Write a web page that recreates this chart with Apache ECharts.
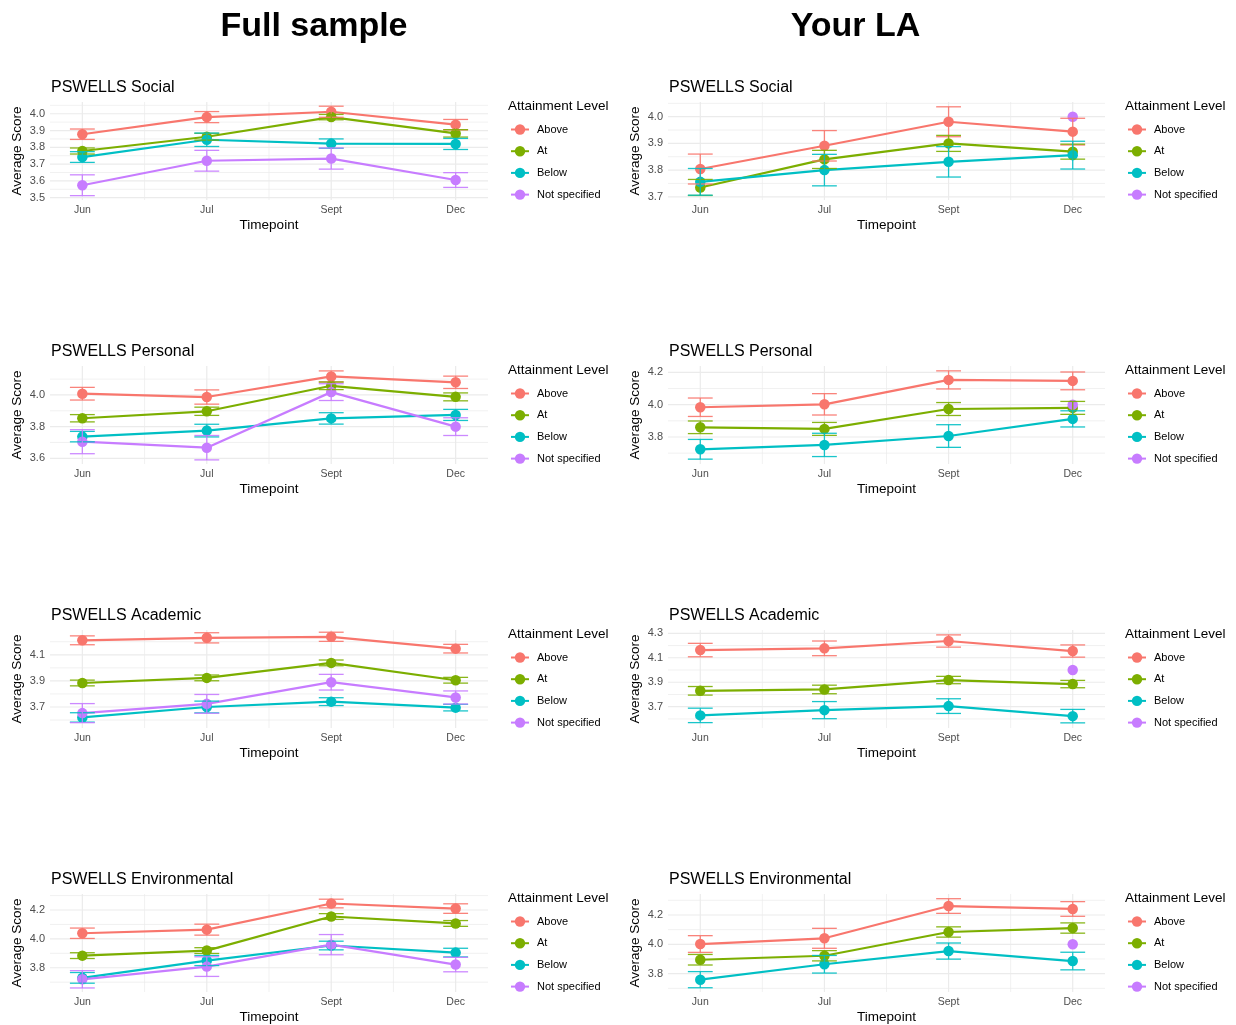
<!DOCTYPE html>
<html><head><meta charset="utf-8">
<script src="https://cdn.jsdelivr.net/npm/echarts@6/dist/echarts.min.js"></script>
<style>html,body{margin:0;padding:0;background:#fff}#c{width:1236px;height:1025px}</style>
</head><body><div id="c"></div>
<script>
// ---------- data ----------
const timepoints = ['Jun', 'Jul', 'Sept', 'Dec'];
const levels = ['Above', 'At', 'Below', 'Not specified'];
const levelColors = ['#F8766D', '#7CAE00', '#00BFC4', '#C77CFF'];
const panelTitles = ['PSWELLS Social', 'PSWELLS Personal', 'PSWELLS Academic', 'PSWELLS Environmental'];
const sampleTitles = ['Full sample', 'Your LA'];

// means per level (Above, At, Below, Not specified), per timepoint
const fullSocialMeans = [[3.878, 3.98, 4.012, 3.935], [3.778, 3.863, 3.98, 3.883], [3.742, 3.845, 3.822, 3.82], [3.574, 3.72, 3.733, 3.605]];
const fullSocialErr = [[0.031, 0.033, 0.033, 0.031], [0.018, 0.02, 0.016, 0.022], [0.032, 0.04, 0.028, 0.033], [0.062, 0.062, 0.063, 0.044]];
const laSocialMeans = [[3.804, 3.891, 3.981, 3.944], [3.735, 3.84, 3.9, 3.869], [3.756, 3.80, 3.831, 3.856], [null, null, null, 4.0]];
const laSocialErr = [[0.056, 0.057, 0.056, 0.05], [0.03, 0.034, 0.03, 0.028], [0.05, 0.059, 0.057, 0.052], [null, null, null, null]];

const fullPersonalMeans = [[4.008, 3.987, 4.117, 4.08], [3.853, 3.897, 4.058, 3.988], [3.737, 3.775, 3.852, 3.874], [3.705, 3.667, 4.018, 3.8]];
const fullPersonalErr = [[0.04, 0.045, 0.035, 0.039], [0.023, 0.026, 0.024, 0.025], [0.033, 0.04, 0.036, 0.035], [0.076, 0.077, 0.053, 0.056]];
const laPersonalMeans = [[3.984, 4.002, 4.153, 4.147], [3.86, 3.85, 3.973, 3.98], [3.724, 3.751, 3.806, 3.912], [null, null, null, 4.0]];
const laPersonalErr = [[0.057, 0.066, 0.056, 0.055], [0.039, 0.04, 0.04, 0.04], [0.061, 0.072, 0.07, 0.05], [null, null, null, null]];

const fullAcademicMeans = [[4.211, 4.23, 4.238, 4.147], [3.884, 3.923, 4.038, 3.905], [3.62, 3.7, 3.741, 3.695], [3.653, 3.724, 3.89, 3.773]];
const fullAcademicErr = [[0.034, 0.039, 0.035, 0.033], [0.022, 0.022, 0.022, 0.022], [0.036, 0.045, 0.03, 0.025], [0.073, 0.072, 0.06, 0.05]];
const laAcademicMeans = [[4.163, 4.177, 4.237, 4.155], [3.83, 3.841, 3.918, 3.885], [3.629, 3.672, 3.705, 3.623], [null, null, null, 4.0]];
const laAcademicErr = [[0.055, 0.06, 0.05, 0.05], [0.035, 0.035, 0.03, 0.03], [0.059, 0.07, 0.06, 0.055], [null, null, null, null]];

const fullEnvMeans = [[4.039, 4.064, 4.245, 4.21], [3.884, 3.919, 4.155, 4.107], [3.73, 3.85, 3.954, 3.905], [3.72, 3.808, 3.96, 3.822]];
const fullEnvErr = [[0.036, 0.038, 0.03, 0.033], [0.02, 0.02, 0.02, 0.02], [0.037, 0.035, 0.03, 0.03], [0.06, 0.068, 0.07, 0.05]];
const laEnvMeans = [[4.002, 4.041, 4.261, 4.241], [3.895, 3.922, 4.084, 4.111], [3.759, 3.864, 3.954, 3.886], [null, null, null, 4.0]];
const laEnvErr = [[0.057, 0.068, 0.05, 0.05], [0.036, 0.035, 0.035, 0.035], [0.055, 0.06, 0.055, 0.06], [null, null, null, null]];

// y tick labels per panel
const fullSocialTicks = [3.5, 3.6, 3.7, 3.8, 3.9, 4.0];
const laSocialTicks = [3.7, 3.8, 3.9, 4.0];
const fullPersonalTicks = [3.6, 3.8, 4.0];
const laPersonalTicks = [3.8, 4.0, 4.2];
const fullAcademicTicks = [3.7, 3.9, 4.1];
const laAcademicTicks = [3.7, 3.9, 4.1, 4.3];
const fullEnvTicks = [3.8, 4.0, 4.2];
const laEnvTicks = [3.8, 4.0, 4.2];
const fullSocialMinor = [3.55, 3.65, 3.75, 3.85, 3.95, 4.05];
const laSocialMinor = [3.75, 3.85, 3.95, 4.05];
const fullPersonalMinor = [3.7, 3.9, 4.1];
const laPersonalMinor = [3.7, 3.9, 4.1];
const fullAcademicMinor = [3.6, 3.8, 4.0, 4.2];
const laAcademicMinor = [3.6, 3.8, 4.0, 4.2];
const fullEnvMinor = [3.7, 3.9, 4.1, 4.3];
const laEnvMinor = [3.7, 3.9, 4.1, 4.3];
// y axis ranges
const fullSocialRange = [3.486, 4.070];
const laSocialRange = [3.688, 4.055];
const fullPersonalRange = [3.564, 4.183];
const laPersonalRange = [3.633, 4.239];
const fullAcademicRange = [3.539, 4.29];
const laAcademicRange = [3.526, 4.327];
const fullEnvRange = [3.632, 4.311];
const laEnvRange = [3.675, 4.343];

// ---------- build ----------
const panels = [
  [fullSocialMeans, fullSocialErr, fullSocialTicks, fullSocialMinor, fullSocialRange],
  [laSocialMeans, laSocialErr, laSocialTicks, laSocialMinor, laSocialRange],
  [fullPersonalMeans, fullPersonalErr, fullPersonalTicks, fullPersonalMinor, fullPersonalRange],
  [laPersonalMeans, laPersonalErr, laPersonalTicks, laPersonalMinor, laPersonalRange],
  [fullAcademicMeans, fullAcademicErr, fullAcademicTicks, fullAcademicMinor, fullAcademicRange],
  [laAcademicMeans, laAcademicErr, laAcademicTicks, laAcademicMinor, laAcademicRange],
  [fullEnvMeans, fullEnvErr, fullEnvTicks, fullEnvMinor, fullEnvRange],
  [laEnvMeans, laEnvErr, laEnvTicks, laEnvMinor, laEnvRange]
];

const FONT = '"Liberation Sans", Arial, Helvetica, sans-serif';
const colLeft = [50, 668], colWidth = [438, 437];
const rowStep = 264, firstTop = 102, plotH = 98;
const xMin = -0.26, xMax = 3.26;

const grid = [], xAxis = [], yAxis = [], series = [], legend = [], graphic = [];

sampleTitles.forEach((t, c) => {
  graphic.push({type: 'text', x: c === 0 ? 314 : 855.5, y: 27,
    style: {text: t, font: 'bold 34px ' + FONT, fill: '#000', align: 'center', verticalAlign: 'middle'}});
});

panels.forEach((p, i) => {
  const r = Math.floor(i / 2), c = i % 2;
  const [means, errs, ticks, minor, range] = p;
  const top = firstTop + rowStep * r;
  grid.push({left: colLeft[c], top: top, width: colWidth[c], height: plotH});
  xAxis.push({
    gridIndex: i, type: 'value', min: xMin, max: xMax,
    axisLine: {show: false}, axisTick: {show: false}, splitLine: {show: false},
    axisLabel: {customValues: [0, 1, 2, 3], formatter: v => timepoints[Math.round(v)],
      fontSize: 10.5, color: '#4D4D4D', margin: 5, fontFamily: FONT},
    name: 'Timepoint', nameLocation: 'middle', nameGap: 18,
    nameTextStyle: {fontSize: 13.5, color: '#000', fontFamily: FONT}
  });
  yAxis.push({
    gridIndex: i, type: 'value', min: range[0], max: range[1],
    axisLine: {show: false}, axisTick: {show: false}, splitLine: {show: false},
    axisLabel: {customValues: ticks, formatter: v => v.toFixed(1),
      fontSize: 11, color: '#4D4D4D', margin: 5, fontFamily: FONT},
    name: 'Average Score', nameLocation: 'middle', nameGap: 26,
    nameTextStyle: {fontSize: 13.5, color: '#000', fontFamily: FONT}
  });
  // grid lines
  const gl = [];
  [0, 1, 2, 3].forEach(v => gl.push([v, 0, 1]));
  [0.5, 1.5, 2.5].forEach(v => gl.push([v, 0, 0]));
  ticks.forEach(v => gl.push([v, 1, 1]));
  minor.forEach(v => gl.push([v, 1, 0]));
  series.push({
    type: 'custom', xAxisIndex: i, yAxisIndex: i, silent: true, z: 0, clip: false,
    data: gl, encode: {x: 0},
    renderItem: (params, api) => {
      const v = api.value(0), dir = api.value(1), maj = api.value(2);
      const cs = params.coordSys;
      let shape;
      if (dir === 0) {
        const px = api.coord([v, range[0]])[0];
        shape = {x1: px, y1: cs.y, x2: px, y2: cs.y + cs.height};
      } else {
        const py = api.coord([0, v])[1];
        shape = {x1: cs.x, y1: py, x2: cs.x + cs.width, y2: py};
      }
      return {type: 'line', shape: shape, style: {stroke: '#EBEBEB', lineWidth: maj ? 1.2 : 0.7}};
    }
  });
  levels.forEach((lv, k) => {
    const pts = [], eb = [];
    means[k].forEach((m, t) => {
      if (m === null) return;
      pts.push([t, m]);
      if (errs[k][t] !== null) eb.push([t, m - errs[k][t], m + errs[k][t]]);
    });
    series.push({
      name: lv, type: 'line', xAxisIndex: i, yAxisIndex: i, data: pts,
      symbol: 'circle', symbolSize: 10.5, showSymbol: true,
      color: levelColors[k],
      lineStyle: {width: 2.2, color: levelColors[k]},
      itemStyle: {color: levelColors[k]},
      emphasis: {disabled: true}, z: 2
    });
    if (eb.length) series.push({
      name: lv, type: 'custom', xAxisIndex: i, yAxisIndex: i, data: eb, z: 3, silent: true,
      encode: {x: 0, y: [1, 2]},
      renderItem: (params, api) => {
        const x = api.value(0), lo = api.value(1), hi = api.value(2);
        const pH = api.coord([x, hi]), pL = api.coord([x, lo]);
        const hw = api.coord([x + 0.1, hi])[0] - pH[0];
        const st = {stroke: levelColors[k], lineWidth: 1.3, opacity: 0.9};
        return {type: 'group', children: [
          {type: 'line', shape: {x1: pH[0], y1: pH[1], x2: pL[0], y2: pL[1]}, style: st},
          {type: 'line', shape: {x1: pH[0] - hw, y1: pH[1], x2: pH[0] + hw, y2: pH[1]}, style: st},
          {type: 'line', shape: {x1: pL[0] - hw, y1: pL[1], x2: pL[0] + hw, y2: pL[1]}, style: st}
        ]};
      }
    });
  });
  // panel title
  graphic.push({type: 'text', x: colLeft[c] + 1, y: 87.5 + rowStep * r,
    style: {text: panelTitles[r], font: '16px ' + FONT, fill: '#000', align: 'left', verticalAlign: 'middle'}});
  // legend title
  graphic.push({type: 'text', x: c === 0 ? 508 : 1125, y: 106 + rowStep * r,
    style: {text: 'Attainment Level', font: '13.5px ' + FONT, fill: '#000', align: 'left', verticalAlign: 'middle'}});
  legend.push({
    orient: 'vertical', left: c === 0 ? 510 : 1127, top: 124 + rowStep * r,
    itemWidth: 18, itemHeight: 13, itemGap: 10.7, selectedMode: false,
    padding: 0,
    textStyle: {fontSize: 11, color: '#000', lineHeight: 11, fontFamily: FONT, padding: [0, 0, 0, 3]},
    data: levels
  });
});

const chart = echarts.init(document.getElementById('c'), null, {renderer: 'canvas'});
chart.setOption({
  animation: false,
  backgroundColor: '#fff',
  textStyle: {fontFamily: FONT},
  grid, xAxis, yAxis, series, legend, graphic
});
</script>
</body></html>
